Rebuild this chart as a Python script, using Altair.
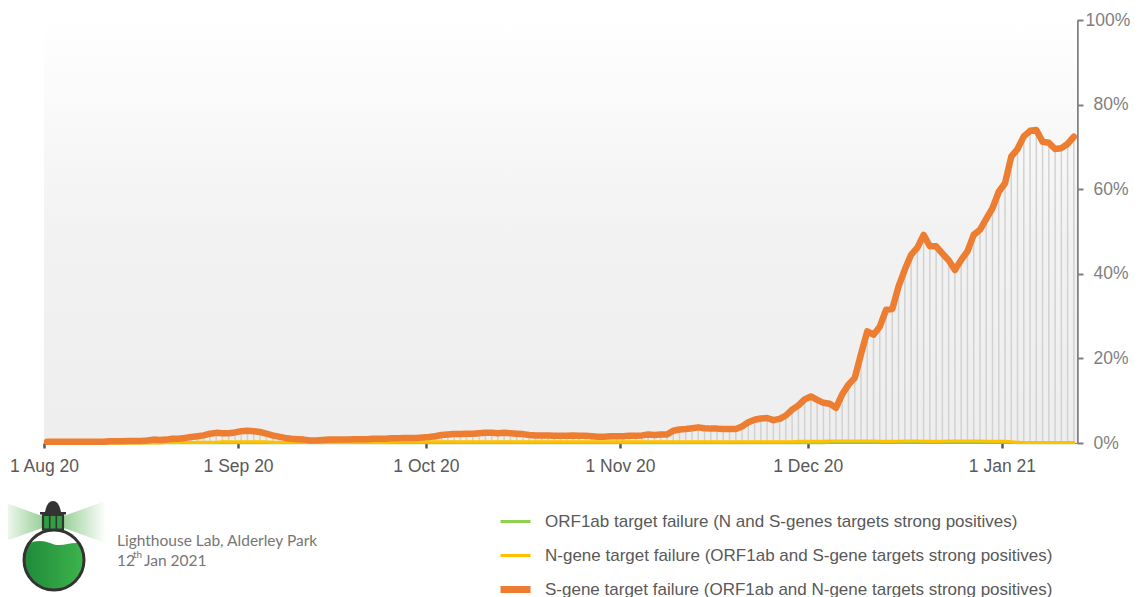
import altair as alt
import pandas as pd

# ---------------- data ----------------
dates = pd.date_range("2020-08-01", "2021-01-12", freq="D").strftime("%Y-%m-%d").tolist()

s_gene = [
    # Aug
    0.3, 0.3, 0.3, 0.3, 0.3, 0.3, 0.3, 0.3, 0.3, 0.3, 0.4, 0.4, 0.4, 0.5, 0.5, 0.5,
    0.6, 0.8, 0.7, 0.8, 1.0, 1.0, 1.2, 1.4, 1.6, 1.8, 2.2, 2.4, 2.3, 2.3, 2.5,
    # Sep
    2.8, 2.9, 2.8, 2.6, 2.2, 1.8, 1.5, 1.2, 1.0, 0.9, 0.8, 0.6, 0.6, 0.7, 0.8,
    0.8, 0.8, 0.8, 0.9, 0.9, 0.9, 1.0, 1.0, 1.0, 1.1, 1.1, 1.2, 1.2, 1.2, 1.3,
    # Oct
    1.4, 1.6, 1.9, 2.0, 2.1, 2.1, 2.2, 2.2, 2.3, 2.4, 2.4, 2.3, 2.4, 2.3, 2.2, 2.1,
    1.9, 1.8, 1.8, 1.8, 1.7, 1.7, 1.7, 1.8, 1.7, 1.7, 1.6, 1.5, 1.5, 1.6, 1.6,
    # Nov
    1.6, 1.7, 1.7, 1.8, 2.0, 1.9, 2.0, 2.0, 2.9, 3.2, 3.3, 3.5, 3.7, 3.5, 3.4,
    3.4, 3.3, 3.3, 3.3, 3.9, 4.9, 5.5, 5.8, 5.9, 5.4, 5.7, 6.5, 7.9, 8.9, 10.3,
    # Dec
    11.0, 10.2, 9.5, 9.3, 8.3, 11.5, 13.8, 15.4, 21.0, 26.4, 25.6, 27.5, 31.5, 31.7,
    37.0, 41.0, 44.5, 46.2, 49.2, 46.5, 46.5, 44.8, 43.2, 40.9, 43.3, 45.3, 49.2,
    50.4, 53.0, 55.5, 59.4,
    # Jan
    61.4, 67.7, 69.5, 72.5, 73.8, 74.0, 71.2, 71.0, 69.5, 69.7, 70.7, 72.4,
]

n_gene = [
    # Aug
    0.0, 0.0, 0.0, 0.0, 0.0, 0.0, 0.0, 0.0, 0.0, 0.0, 0.0, 0.0, 0.0, 0.0, 0.0, 0.0,
    0.0, 0.0, 0.0, 0.1, 0.1, 0.1, 0.1, 0.1, 0.2, 0.2, 0.2, 0.2, 0.3, 0.3, 0.3,
    # Sep
    0.3, 0.3, 0.3, 0.3, 0.3, 0.2, 0.2, 0.2, 0.2, 0.2, 0.2, 0.2, 0.2, 0.2, 0.2,
    0.2, 0.2, 0.2, 0.2, 0.2, 0.2, 0.2, 0.2, 0.2, 0.2, 0.3, 0.3, 0.3, 0.3, 0.3,
    # Oct
    0.3, 0.3, 0.3, 0.3, 0.3, 0.3, 0.3, 0.3, 0.3, 0.3, 0.3, 0.3, 0.3, 0.3, 0.3, 0.3,
    0.3, 0.3, 0.3, 0.3, 0.3, 0.3, 0.3, 0.3, 0.3, 0.3, 0.3, 0.3, 0.3, 0.3, 0.3,
    # Nov
    0.3, 0.3, 0.3, 0.3, 0.3, 0.3, 0.3, 0.3, 0.3, 0.3, 0.3, 0.3, 0.3, 0.3, 0.3,
    0.3, 0.3, 0.3, 0.3, 0.3, 0.3, 0.3, 0.3, 0.3, 0.3, 0.3, 0.3, 0.3, 0.4, 0.4,
    # Dec
    0.4, 0.4, 0.4, 0.5, 0.5, 0.5, 0.5, 0.5, 0.5, 0.5, 0.5, 0.4, 0.4, 0.4, 0.4,
    0.5, 0.5, 0.5, 0.4, 0.4, 0.4, 0.4, 0.5, 0.5, 0.5, 0.5, 0.5, 0.5, 0.4, 0.4, 0.4,
    # Jan
    0.4, 0.3, 0.2, 0.1, 0.1, 0.1, 0.1, 0.1, 0.1, 0.1, 0.1, 0.1,
]

orf1ab = [
    # Aug
    0.0, 0.0, 0.0, 0.0, 0.0, 0.0, 0.0, 0.0, 0.0, 0.0, 0.0, 0.0, 0.0, 0.0, 0.0, 0.0,
    0.0, 0.0, 0.0, 0.0, 0.0, 0.0, 0.0, 0.0, 0.0, 0.0, 0.0, 0.0, 0.0, 0.0, 0.0,
    # Sep
    0.0, 0.0, 0.0, 0.0, 0.0, 0.0, 0.0, 0.0, 0.0, 0.0, 0.0, 0.0, 0.0, 0.0, 0.0,
    0.0, 0.0, 0.0, 0.0, 0.0, 0.0, 0.0, 0.0, 0.0, 0.0, 0.0, 0.0, 0.0, 0.0, 0.0,
    # Oct
    0.0, 0.0, 0.0, 0.0, 0.0, 0.0, 0.0, 0.0, 0.0, 0.0, 0.0, 0.0, 0.0, 0.0, 0.0, 0.0,
    0.0, 0.0, 0.0, 0.0, 0.0, 0.0, 0.0, 0.0, 0.0, 0.0, 0.0, 0.0, 0.0, 0.0, 0.0,
    # Nov
    0.0, 0.0, 0.0, 0.0, 0.0, 0.0, 0.0, 0.0, 0.0, 0.0, 0.0, 0.0, 0.0, 0.0, 0.0,
    0.0, 0.0, 0.0, 0.0, 0.0, 0.0, 0.0, 0.0, 0.0, 0.0, 0.0, 0.0, 0.0, 0.0, 0.0,
    # Dec
    0.0, 0.0, 0.0, 0.1, 0.1, 0.1, 0.1, 0.1, 0.1, 0.1, 0.1, 0.1, 0.1, 0.1, 0.1,
    0.1, 0.1, 0.1, 0.1, 0.1, 0.1, 0.1, 0.1, 0.1, 0.1, 0.1, 0.1, 0.1, 0.1, 0.1, 0.1,
    # Jan
    0.1, 0.1, 0.0, 0.0, 0.0, 0.0, 0.0, 0.0, 0.0, 0.0, 0.0, 0.0,
]

series_names = [
    "ORF1ab target failure (N and S-genes targets strong positives)",
    "N-gene target failure (ORF1ab and S-gene targets strong positives)",
    "S-gene target failure (ORF1ab and N-gene targets strong positives)",
]
series_colors = ["#92d050", "#ffc000", "#ed7d31"]

x_tick_dates = ["2020-08-01", "2020-09-01", "2020-10-01", "2020-11-01", "2020-12-01", "2021-01-01"]
y_ticks = [0, 20, 40, 60, 80, 100]

footer_line1 = "Lighthouse Lab, Alderley Park"
footer_day, footer_sup, footer_rest = "12", "th", "Jan 2021"

# ---------------- layout ----------------
W, H = 1033, 423
FONT = "Liberation Sans"


def dt(s):
    y, m, d = (int(v) for v in s.split("-"))
    return alt.DateTime(year=y, month=m, date=d, utc=True)


df = pd.DataFrame({"date": dates, series_names[0]: orf1ab,
                   series_names[1]: n_gene, series_names[2]: s_gene})

x_scale = alt.Scale(type="utc", domain=[dt("2020-08-01"), dt("2021-01-13")])
x_axis = alt.Axis(values=[dt(s) for s in x_tick_dates],
                  labelExpr="utcFormat(datum.value, '%-d %b %y')",
                  title=None, grid=False, labelFlush=False, labelOverlap=False,
                  labelFontSize=17.5, labelColor="#595959", labelFont=FONT, labelPadding=9,
                  tickColor="#595959", tickWidth=2.5, tickSize=5,
                  domainColor="#8c8c8c", domainWidth=1)
y_scale = alt.Scale(domain=[0, 100], nice=False)
y_axis = alt.Axis(orient="right", values=y_ticks, labelExpr="datum.value + '%'", title=None,
                  grid=False, labelFlush=False, labelFontSize=17.5, labelColor="#7f7f7f",
                  labelFont=FONT,
                  labelPadding={"condition": {"test": "datum.value == 100", "value": 2},
                                "value": 10},
                  tickColor="#808080", tickWidth=2,
                  tickSize=6, domainColor="#808080", domainWidth=2.5)

X = alt.X("date:T", timeUnit="utcyearmonthdate", bandPosition=0.5, scale=x_scale, axis=x_axis)

one = pd.DataFrame({"k": [0]})

background = alt.Chart(one).mark_rect(
    fill={"gradient": "linear", "x1": 0, "y1": 0, "x2": 0, "y2": 1,
          "stops": [{"offset": 0, "color": "#ffffff"},
                    {"offset": 0.5, "color": "#f2f2f2"},
                    {"offset": 1, "color": "#eeeeee"}]}
).encode(x=alt.value(0), x2=alt.value(W), y=alt.value(0), y2=alt.value(H))

drops = alt.Chart(df).mark_rule(color="#d2d2d2", strokeWidth=1.5).encode(
    x=X,
    y=alt.Y(f"{series_names[2]}:Q", scale=y_scale, axis=y_axis),
    y2=alt.datum(0),
)

s_name = series_names[2]
legend = alt.Legend(title=None, orient="none", legendX=463, legendY=493, direction="vertical",
                    gridAlign="all",
                    symbolType="stroke", symbolSize=900, labelFontSize=17,
                    symbolStrokeWidth={"expr": f"datum.value == '{s_name}' ? 7 : 3"},
                    labelColor="#595959", labelFont=FONT, labelOffset=21, rowPadding=5,
                    labelLimit=0, padding=0)

lines = alt.Chart(df).transform_fold(
    series_names, as_=["series", "value"]
).transform_calculate(
    lw=f"datum.series == '{s_name}' ? 6.5 : (datum.series == '{series_names[1]}' ? 3 : 2.5)"
).mark_line(strokeCap="round", strokeJoin="round").encode(
    x=X,
    y=alt.Y("value:Q", scale=y_scale, axis=y_axis),
    color=alt.Color("series:N", sort=series_names,
                    scale=alt.Scale(domain=series_names, range=series_colors), legend=legend),
    strokeWidth=alt.StrokeWidth("lw:Q", scale=None, legend=None),
)

# ---------------- logo (decorative) ----------------
OX, OY = 44, 20  # plot origin on the page
beam_path = ("M-0.19,-0.11 L-1,-0.4 L-1,0.4 L-0.19,0.11 Z "
             "M0.19,-0.11 L1,-0.4 L1,0.4 L0.19,0.11 Z")
beams = alt.Chart(one).mark_point(
    shape=beam_path, size=106 * 106, filled=True, opacity=1, strokeWidth=0,
    fill={"gradient": "linear", "x1": 0, "y1": 0, "x2": 1, "y2": 0,
          "stops": [{"offset": 0, "color": "#ffffff"},
                    {"offset": 0.38, "color": "#9fd39f"},
                    {"offset": 0.62, "color": "#9fd39f"},
                    {"offset": 1, "color": "#ffffff"}]}
).encode(x=alt.value(53 - OX), y=alt.value(522 - OY))

circle_path = "M1,0 A1,1 0 1,1 -1,0 A1,1 0 1,1 1,0 Z"
body = alt.Chart(one).mark_point(shape=circle_path, size=3600, filled=True, fill="#ffffff",
                                 opacity=1, strokeWidth=0).encode(
    x=alt.value(54 - OX), y=alt.value(560 - OY))
liquid_path = ("M-0.84,-0.55 C-0.5,-0.72 -0.2,-0.6 0,-0.52 C0.3,-0.44 0.6,-0.62 0.84,-0.55 "
               "A1,1 0 1,1 -0.84,-0.55 Z")
liquid = alt.Chart(one).mark_point(
    shape=liquid_path, size=3600, filled=True, opacity=1, strokeWidth=0,
    fill={"gradient": "linear", "x1": 0, "y1": 0, "x2": 1, "y2": 0,
          "stops": [{"offset": 0, "color": "#1f8a3b"}, {"offset": 1, "color": "#3db54c"}]}
).encode(x=alt.value(54 - OX), y=alt.value(560 - OY))
rim = alt.Chart(one).mark_point(shape=circle_path, size=3600, filled=False, opacity=1,
                                stroke="#333333", strokeWidth=3).encode(
    x=alt.value(54 - OX), y=alt.value(560 - OY))
neck = alt.Chart(one).mark_point(
    shape="M-1,-0.7 L1,-0.7 L1,0.75 L-1,0.75 Z", size=400, filled=True, fill="#2ea043",
    stroke="#333333", strokeWidth=2.2, opacity=1
).encode(x=alt.value(53 - OX), y=alt.value(522 - OY))
neck_bars = alt.Chart(one).mark_point(
    shape="M-0.33,-0.7 L-0.33,0.75 M0.33,-0.7 L0.33,0.75", size=400, filled=False,
    stroke="#333333", strokeWidth=1.6, opacity=1
).encode(x=alt.value(53 - OX), y=alt.value(522 - OY))
cap = alt.Chart(one).mark_point(
    shape="M-1.3,0.45 L1.3,0.45 L1.3,0.2 L0.8,0.2 Q0.6,-0.9 0,-0.9 Q-0.6,-0.9 -0.8,0.2 L-1.3,0.2 Z",
    size=400, filled=True, fill="#333333", strokeWidth=0, opacity=1
).encode(x=alt.value(53 - OX), y=alt.value(510 - OY))

TXT = dict(font="Lato", color="#767676", align="left", baseline="middle")
t1 = alt.Chart(one).mark_text(text=footer_line1, fontSize=15.5, **TXT).encode(
    x=alt.value(117 - OX), y=alt.value(541 - OY))
t2 = alt.Chart(one).mark_text(text=footer_day, fontSize=15.5, **TXT).encode(
    x=alt.value(117 - OX), y=alt.value(561 - OY))
t3 = alt.Chart(one).mark_text(text=footer_sup, fontSize=10, **TXT).encode(
    x=alt.value(133 - OX), y=alt.value(555 - OY))
t4 = alt.Chart(one).mark_text(text=footer_rest, fontSize=15.5, **TXT).encode(
    x=alt.value(144 - OX), y=alt.value(561 - OY))

chart = alt.layer(
    background, drops, lines, beams, body, liquid, rim, neck, neck_bars, cap, t1, t2, t3, t4
).properties(
    width=W, height=H,
    autosize=alt.AutoSizeParams(type="none"),
    padding={"left": 36, "top": 12, "right": 57, "bottom": 162},
    background="#ffffff",
).configure_view(stroke=None)

chart.save("out.html", embed_options={"renderer": "svg", "actions": False})
